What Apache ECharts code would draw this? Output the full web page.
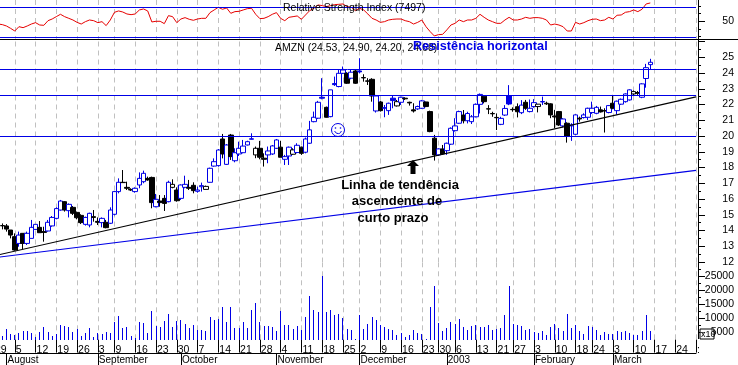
<!DOCTYPE html>
<html><head><meta charset="utf-8">
<style>html,body{margin:0;padding:0;background:#fff}#c{width:738px;height:365px}</style>
<script src="https://cdn.jsdelivr.net/npm/echarts@6/dist/echarts.min.js"></script>
</head><body><div id="c"></div>
<script>
const holidays=['2002-09-02','2002-11-28','2002-12-25','2003-01-01','2003-01-20','2003-02-17'];
const firstDay='2002-07-29', lastDay='2003-03-31', firstCandle='2002-07-31';
const monthNames=['2003','February','March','','','','','August','September','October','November','December'];
const opens=[14.31,14.29,14.03,13.61,13.18,13.82,13.18,13.50,14.07,14.20,
13.93,13.97,14.29,14.77,15.30,15.83,15.26,15.47,15.15,14.96,
14.39,14.35,14.88,14.58,14.50,14.52,14.46,15.03,16.47,17.06,
16.74,16.61,16.47,16.89,17.10,17.31,17.37,15.51,15.87,16.04,
15.83,16.74,16.57,16.04,16.74,16.74,16.87,16.49,16.78,16.61,
17.06,18.09,18.12,19.81,18.20,20.06,18.43,18.86,18.94,19.43,
19.80,18.80,19.22,18.59,18.80,18.86,19.22,19.29,18.52,18.73,
18.84,18.95,19.29,18.97,19.54,20.91,21.13,22.40,21.82,21.23,
23.26,23.14,23.98,23.98,23.67,24.13,24.07,23.71,23.50,23.60,
21.59,22.16,21.76,21.61,22.25,21.91,22.14,22.40,22.14,21.66,
21.72,21.76,22.16,21.55,19.86,18.80,19.18,19.07,19.48,20.34,
20.81,21.33,20.97,20.91,21.22,22.01,22.53,21.73,21.43,21.18,
20.74,21.33,22.03,21.69,21.86,21.48,22.14,21.55,21.87,21.87,
22.16,22.08,22.04,21.27,21.55,20.64,20.81,20.64,20.11,21.13,
21.17,21.19,21.49,21.44,21.66,21.61,21.49,22.08,21.61,22.02,
22.18,22.29,22.67,22.76,22.46,23.65,24.53];
const closes=[14.30,14.09,13.71,12.76,13.71,13.18,13.82,14.20,14.39,13.86,
13.88,14.52,14.83,15.39,15.87,15.30,15.66,15.09,14.81,14.50,
14.83,15.09,14.83,14.52,14.77,14.18,15.30,16.47,17.06,17.04,
16.68,16.57,16.68,17.31,17.63,17.21,15.77,15.98,15.77,15.72,
17.06,16.93,15.89,16.89,16.93,16.68,16.53,16.57,16.85,16.80,
17.95,18.37,19.11,18.86,19.43,18.69,18.94,19.22,19.36,19.64,
19.82,19.22,18.65,18.52,19.05,19.37,19.75,18.65,18.69,19.29,
19.12,19.41,18.90,19.81,20.39,21.19,22.14,22.46,21.19,22.93,
23.33,23.98,24.19,23.35,24.05,23.35,24.13,23.69,23.48,22.54,
22.54,21.61,21.80,22.08,22.40,22.18,22.46,22.36,22.10,21.59,
21.87,22.23,21.87,20.28,18.80,19.18,18.86,19.54,20.49,20.64,
21.55,20.97,21.43,21.22,22.01,22.64,22.18,21.71,21.41,21.16,
21.12,21.75,22.56,21.67,21.54,21.96,21.76,21.76,22.12,22.02,
22.19,22.04,21.34,21.21,20.70,21.08,20.00,20.70,21.34,21.08,
21.34,21.76,21.76,21.82,21.53,21.59,21.93,21.76,22.21,22.33,
22.67,22.93,22.82,22.71,23.31,24.34,24.68];
const lows=[14.07,13.93,13.50,12.72,12.97,12.80,13.08,13.50,14.03,13.86,
13.29,13.93,14.24,14.71,15.26,15.20,14.83,14.98,14.71,14.41,
14.31,14.20,14.56,14.35,14.20,14.14,14.41,14.96,16.36,17.04,
16.57,16.51,16.40,16.68,17.00,17.16,15.41,15.47,15.51,15.24,
15.79,16.68,15.83,15.94,16.68,16.57,16.36,16.40,16.47,16.61,
17.04,18.05,18.05,18.58,18.16,18.48,18.33,18.73,18.90,19.40,
19.78,18.59,18.52,18.06,18.27,18.80,19.18,18.65,18.16,18.16,
18.80,18.90,18.80,18.90,19.50,20.87,21.08,22.33,21.17,21.19,
23.18,23.09,23.94,23.31,23.60,23.31,23.98,23.45,23.24,22.18,
21.49,21.55,21.19,21.34,21.76,21.87,21.97,22.29,21.93,21.49,
21.66,21.72,21.83,20.24,18.44,18.73,18.80,18.80,19.43,20.28,
20.77,20.80,20.80,20.76,21.18,21.43,22.07,21.39,21.22,20.38,
20.69,21.27,21.96,21.54,21.18,21.39,21.66,21.50,21.79,21.50,
21.97,21.97,21.13,20.49,20.64,20.55,19.58,19.69,20.07,20.91,
21.11,21.02,21.40,21.38,21.49,20.22,21.44,21.70,21.36,21.97,
22.12,22.25,22.55,22.61,22.40,23.07,24.20];
const highs=[14.45,14.41,14.03,13.82,13.93,13.82,13.93,14.67,14.39,14.60,
14.24,14.67,14.92,15.47,15.94,15.87,15.72,15.55,15.20,15.03,
14.88,15.13,15.30,14.83,14.83,14.67,15.47,16.51,17.31,17.84,
17.10,16.68,16.74,17.69,17.80,17.42,17.42,16.32,16.25,16.25,
17.16,17.25,16.74,16.93,17.48,17.21,17.06,16.78,17.04,16.85,
17.99,18.58,19.17,20.13,19.49,20.13,19.22,19.64,19.75,19.70,
20.17,19.33,19.69,18.90,19.33,19.43,19.81,19.69,18.80,19.33,
19.22,19.54,19.33,19.90,20.96,21.55,22.23,23.67,21.87,22.93,
23.77,24.24,24.41,24.05,24.20,24.20,24.94,23.92,23.67,23.67,
22.61,22.23,21.97,22.12,22.54,22.29,22.50,22.46,22.18,22.08,
21.93,22.29,22.18,21.61,20.07,19.22,19.43,19.58,20.55,21.13,
21.61,21.65,21.54,21.33,22.07,22.70,22.60,21.96,21.54,21.43,
21.22,21.96,23.23,21.82,22.07,22.28,22.29,22.32,22.34,22.03,
22.50,22.18,22.08,21.66,21.59,21.13,20.87,20.81,21.38,21.23,
21.44,21.80,22.18,21.91,21.87,21.76,21.97,22.61,22.25,22.38,
22.71,22.97,22.89,22.86,23.35,24.58,24.90];
const hollowBlackCandles=[41,49,61,70,95,129,152];
const filledBlueCandles=[60,77,80,86,94,122];
const volumes=[3750,6100,4460,4100,4930,5530,5530,4810,3390,5170,
6950,5170,3750,4460,7660,7310,6950,5170,6240,3750,
4810,6600,3390,4810,4460,5170,4810,8730,10870,6600,
6950,3750,3040,8730,8380,4810,12650,7310,6950,9090,
11580,6950,9090,9440,8020,6600,7660,5880,5880,5530,
10510,9440,9800,14070,8730,14070,6600,6600,8730,6600,
13010,15500,8730,7310,7310,6950,5530,12650,7660,7660,
6240,7310,5880,10510,17990,13010,12290,25110,12290,13010,
11220,11580,10160,6240,5880,2680,11220,6240,8020,10510,
9440,7660,6950,6240,5880,4100,4810,3390,4100,5880,
4810,4460,2680,14070,21670,8380,5530,6600,8730,8020,
9800,6950,5880,7310,7660,6950,6950,7660,5880,6240,
6600,11220,21670,8020,7660,7310,5880,6240,5170,4810,
5530,4100,6950,8020,6600,5530,11580,6600,7660,5530,
4460,7310,6950,5880,4100,5170,4460,4460,5530,5170,
5530,4810,4100,4100,5530,11220,5530];
const rsiValues=[46.4,45.6,43.8,40.7,37.2,42.9,41.6,43.8,46.4,48.2,45.1,
44.7,50.8,53,56.1,59.2,56.1,53.9,51.7,48.6,46.4,
49.5,51.7,50.8,48.2,49.5,44.3,51.7,61.8,63.6,62.2,
59.6,58.7,59.6,64.9,66.2,63.6,49.1,50,50,46.9,
57.4,56.1,48.2,53,54.8,52.6,51.3,53,53.9,53.9,
61.4,64.9,68.4,65.8,67.5,60.5,62.7,63.1,64.9,66.6,
67.1,59.2,53.5,53.9,56.1,59.2,61.4,53.9,50.8,55.2,
56.1,57,52.6,58.3,64,67.1,71.5,70.6,69.3,70.6,
71.9,72.3,72.8,69.3,68.4,64,67.1,64.9,59.6,53.9,
51.7,48.6,49.5,51.7,52.6,53,53,50.8,49.5,46.4,
48.6,51.7,42.9,36.4,30.7,32.4,32.8,38.6,45.1,47.3,
51.7,49.5,51.7,51.7,53.9,59.2,55.2,51.7,49.5,47.3,
47.3,51.7,55.2,51.7,51.7,53,55.2,53.9,54.8,54.8,
53.9,51.7,45.1,46.4,45.1,42.9,37.2,37.2,48.6,46.4,
48.2,50.8,52.6,53,50.8,51.7,55.2,53,57.9,58.3,
61.8,62.7,64.9,62.7,65.8,72.8,74.1];
const priceLevels=[20.0,22.58,24.22];
const rsiLevels=[68.1,28.7];
const trendBlack=[12.39,22.48];
const trendBlue=[12.27,17.82];
const priceTicks=[12,26];
const volBase=2500, volTop=30000;
const rsiMajorTicks=[50], rsiMinorTicks=[30,40,60,70];
const volMajorTicks=[5000,10000,15000,20000,25000];
const volMinorTicks=[7500,12500,17500,22500,27500];

const BLUE='#0000e6', FONT='"Liberation Sans",Arial,sans-serif';
const categories=[];
for(let t=Date.parse(firstDay+'T00:00:00Z');t<=Date.parse(lastDay+'T00:00:00Z');t+=864e5){
  const d=new Date(t), iso=d.toISOString().slice(0,10), w=d.getUTCDay();
  if(w!==0&&w!==6&&!holidays.includes(iso))categories.push(iso);
}
const dayOf=s=>new Date(s+'T00:00:00Z');
const isWeekStart=i=>i===0||dayOf(categories[i]).getUTCDay()<dayOf(categories[i-1]).getUTCDay();
const isMonthStart=i=>i>0&&dayOf(categories[i]).getUTCMonth()!==dayOf(categories[i-1]).getUTCMonth();
const offset=categories.indexOf(firstCandle);
const last=categories.length-1;
const candles=opens.map((o,i)=>{
  const item={value:[i+offset,o,closes[i],lows[i],highs[i]]};
  if(hollowBlackCandles.includes(i))item.itemStyle={color:'#fff',borderColor:'#000',color0:'#fff',borderColor0:'#000'};
  if(filledBlueCandles.includes(i))item.itemStyle={color:BLUE,borderColor:BLUE,color0:BLUE,borderColor0:BLUE};
  return item;
});
const hline=v=>({yAxis:v});
const mlBase={silent:true,symbol:'none',animation:false,label:{show:false},emphasis:{disabled:true},precision:4};
const hidden={show:false};
const splitX={show:true,interval:(i)=>isWeekStart(i),lineStyle:{color:'#c0c0c0',type:[5,4],width:1}};
const catBase={type:'category',data:categories,boundaryGap:false,min:0,max:last};
const gridBase={left:-6,width:702,outerBoundsMode:'none',containLabel:false};
const grids=[
 {...gridBase,top:0,height:38.76},
 {...gridBase,top:41.5,height:220.5},
 {...gridBase,top:262.3,height:77.3},
 {...gridBase,top:352.5,height:0.5}
];
const valLabel={show:true,color:'#000',fontFamily:FONT,fontSize:10.5,align:'right',margin:36,padding:[3,0,0,0],formatter:v=>String(v)};
const tick=len=>({show:true,length:len,lineStyle:{color:'#000',width:1}});
const option={
 animation:false,
 backgroundColor:'#fff',
 grid:grids,
 xAxis:[
  {...catBase,gridIndex:0,axisLine:hidden,axisTick:hidden,axisLabel:hidden,splitLine:splitX},
  {...catBase,gridIndex:1,axisLine:hidden,axisTick:hidden,axisLabel:hidden,splitLine:splitX},
  {...catBase,gridIndex:2,axisLine:hidden,splitLine:splitX,
   axisTick:{show:true,interval:i=>isWeekStart(i),length:13,lineStyle:{color:'#000'}},
   axisLabel:{show:true,interval:i=>isWeekStart(i),color:'#000',fontFamily:FONT,fontSize:10.5,align:'left',verticalAlign:'top',margin:5,padding:[0,0,0,1],hideOverlap:false,
     formatter:(v,i)=>i===last?':':String(dayOf(v).getUTCDate())}},
  {...catBase,gridIndex:3,position:'bottom',splitLine:hidden,
   axisLine:{show:true,onZero:false,lineStyle:{color:'#000',width:1}},
   axisTick:{show:true,interval:i=>isMonthStart(i),length:12,lineStyle:{color:'#000'}},
   axisLabel:{show:true,interval:i=>isMonthStart(i),color:'#000',fontFamily:FONT,fontSize:10,align:'left',verticalAlign:'top',margin:2,padding:[0,0,0,1],hideOverlap:false,
     formatter:v=>monthNames[dayOf(v).getUTCMonth()]}}
 ],
 yAxis:[
  {type:'value',gridIndex:0,position:'right',offset:2,min:27,max:78,scale:true,splitLine:hidden,axisLine:hidden,
   axisTick:{...tick(7),customValues:rsiMajorTicks},axisLabel:{...valLabel,customValues:rsiMajorTicks}},
  {type:'value',gridIndex:0,position:'right',offset:2,min:27,max:78,scale:true,splitLine:hidden,axisLine:hidden,
   axisTick:{...tick(3),customValues:rsiMinorTicks},axisLabel:hidden},
  {type:'value',gridIndex:1,position:'right',offset:2,min:priceTicks[0],max:priceTicks[1],interval:1,splitLine:hidden,axisLine:hidden,
   axisTick:tick(7),minorTick:{show:true,splitNumber:2,length:3,lineStyle:{color:'#000'}},
   axisLabel:{...valLabel,formatter:v=>v===priceTicks[1]?'':String(v)}},
  {type:'value',gridIndex:2,position:'right',offset:2,min:volBase,max:volTop,scale:true,splitLine:hidden,axisLine:hidden,
   axisTick:{...tick(7),customValues:volMajorTicks},axisLabel:{...valLabel,customValues:volMajorTicks}},
  {type:'value',gridIndex:2,position:'right',offset:2,min:volBase,max:volTop,scale:true,splitLine:hidden,axisLine:hidden,
   axisTick:{...tick(3),customValues:volMinorTicks},axisLabel:hidden},
  {type:'value',gridIndex:3,show:false,min:0,max:1}
 ],
 series:[
  {type:'line',name:'RSI',xAxisIndex:0,yAxisIndex:0,data:['-'].concat(rsiValues),symbol:'none',z:3,
   lineStyle:{color:'#e60000',width:1},
   markLine:{...mlBase,lineStyle:{color:BLUE,width:1,type:'solid'},data:rsiLevels.map(hline)}},
  {type:'candlestick',name:'AMZN',xAxisIndex:1,yAxisIndex:2,data:candles,barWidth:5,z:3,
   encode:{x:0,y:[1,2,3,4]},
   itemStyle:{color:'#fff',borderColor:BLUE,color0:'#000',borderColor0:'#000',borderWidth:1},
   markLine:{...mlBase,z:4,data:[
     ...priceLevels.map(v=>({yAxis:v,lineStyle:{color:BLUE,width:1,type:'solid'}})),
     [{coord:[0,trendBlack[0]],lineStyle:{color:'#000',width:1.2,type:'solid'}},{coord:[last,trendBlack[1]]}],
     [{coord:[0,trendBlue[0]],lineStyle:{color:BLUE,width:1.2,type:'solid'}},{coord:[last,trendBlue[1]]}]
   ]}},
  {type:'custom',name:'Volume',xAxisIndex:2,yAxisIndex:3,z:3,clip:false,
   data:volumes.map((v,i)=>[i+offset,v]),encode:{x:0,y:1},
   renderItem:(p,api)=>{
     const top=api.coord([api.value(0),api.value(1)]);
     const base=api.coord([api.value(0),volBase]);
     return {type:'rect',shape:{x:Math.floor(top[0]),y:Math.round(top[1]),width:1,height:Math.round(base[1])-Math.round(top[1])},style:{fill:BLUE}};
   }}
 ],
 graphic:[
  {type:'line',silent:true,z:50,shape:{x1:0,y1:39.5,x2:738,y2:39.5},style:{stroke:'#000',lineWidth:1}},
  {type:'line',silent:true,z:50,shape:{x1:698.5,y1:0,x2:698.5,y2:339},style:{stroke:'#000',lineWidth:1}},
  {type:'text',silent:true,z:60,x:283,y:3,style:{text:'Relative Strength Index (7497)',fill:'#000',font:'10.5px '+FONT}},
  {type:'text',silent:true,z:60,x:275,y:43,style:{text:'AMZN (24.53, 24.90, 24.20, 24.68)',fill:'#000',font:'10.5px '+FONT}},
  {type:'text',silent:true,z:61,x:413,y:40,style:{text:'Resistência horizontal',fill:BLUE,font:'bold 12.7px '+FONT}},
  {type:'text',silent:true,z:60,x:400,y:179,style:{text:'Linha de tendência',fill:'#000',align:'center',font:'bold 13px '+FONT}},
  {type:'text',silent:true,z:60,x:397,y:195,style:{text:'ascendente de',fill:'#000',align:'center',font:'bold 13px '+FONT}},
  {type:'text',silent:true,z:60,x:393,y:212,style:{text:'curto prazo',fill:'#000',align:'center',font:'bold 13px '+FONT}},
  {type:'polygon',silent:true,z:60,shape:{points:[[413,160],[419,166],[415.5,166],[415.5,174],[410.5,174],[410.5,166],[407,166]]},style:{fill:'#000'}},
  {type:'circle',silent:true,z:60,shape:{cx:338,cy:130,r:6.5},style:{fill:'none',stroke:BLUE,lineWidth:1}},
  {type:'circle',silent:true,z:60,shape:{cx:335.5,cy:128,r:.8},style:{fill:BLUE}},
  {type:'circle',silent:true,z:60,shape:{cx:340.5,cy:128,r:.8},style:{fill:BLUE}},
  {type:'arc',silent:true,z:60,shape:{cx:338,cy:130,r:3.5,startAngle:0.3,endAngle:Math.PI-0.3},style:{fill:'none',stroke:BLUE,lineWidth:1}},
  {type:'rect',silent:true,z:60,shape:{x:700,y:329,width:14,height:10},style:{fill:'rgba(255,255,255,0.4)',stroke:'#000',lineWidth:1}},
  {type:'text',silent:true,z:61,x:701,y:330,style:{text:'x10',fill:'#000',font:'9px '+FONT}}
 ]
};
echarts.init(document.getElementById('c'),null,{renderer:'canvas'}).setOption(option);
</script></body></html>
